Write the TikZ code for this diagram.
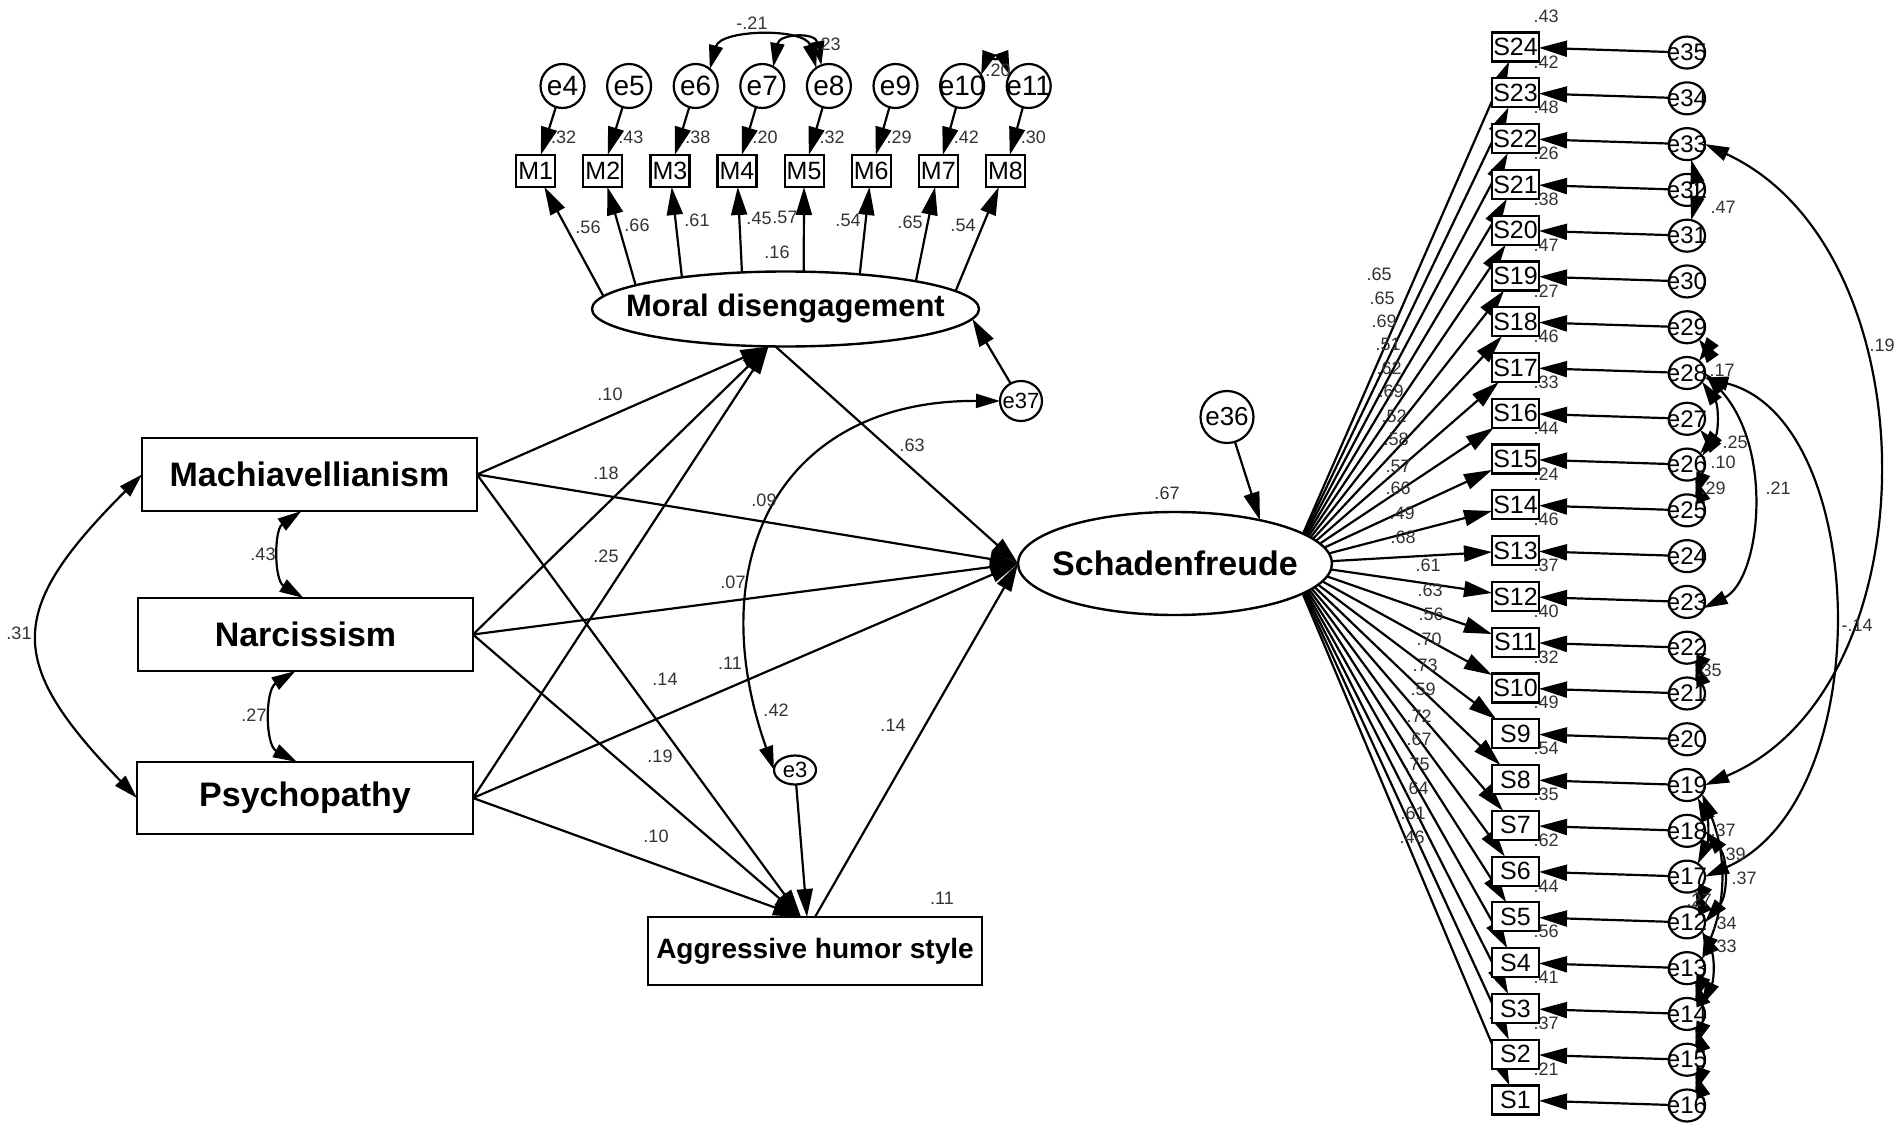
\documentclass[tikz,border=0pt]{standalone}
\usepackage{fontspec}
\setmainfont{Liberation Sans}
\usetikzlibrary{arrows.meta,shapes.geometric,backgrounds}
\begin{document}
\begin{tikzpicture}[x=0.5pt,y=-0.5pt,
  every node/.style={inner sep=0pt,outer sep=0pt},
  lab/.style={font=\fontsize{9}{10}\selectfont,text=black!80},
  bigtxt/.style={font=\fontsize{17}{20}\selectfont\bfseries},
  boxnode/.style={draw,line width=1.2pt,fill=white,rectangle},
  smallbox/.style={draw,line width=1.1pt,fill=white,rectangle,font=\fontsize{12.5}{13}\selectfont},
  latent/.style={draw,line width=1.2pt,fill=white,ellipse},
  errc/.style={draw,line width=1.1pt,fill=white,ellipse},
  arr/.style={line width=1.1pt,-{Triangle[length=14pt,width=8pt]}},
  cov/.style={line width=1.1pt,{Triangle[length=12pt,width=7pt]}-{Triangle[length=12pt,width=7pt]}},
]
\begin{pgfonlayer}{background}
\fill[white] (0,0) rectangle (1902,1129);
\end{pgfonlayer}
\path[use as bounding box] (0,0) rectangle (1902,1129);

% ---------- exogenous boxes ----------
\node[boxnode,bigtxt,minimum width=167.5pt,minimum height=36.5pt] (Mach) at (309.5,474.5) {Machiavellianism};
\node[boxnode,bigtxt,minimum width=167.5pt,minimum height=36.5pt] (Narc) at (305.5,634.5) {Narcissism};
\node[boxnode,bigtxt,minimum width=168pt,minimum height=36pt] (Psy) at (305,798) {Psychopathy};
\node[boxnode,font=\fontsize{14}{16}\selectfont\bfseries,minimum width=167pt,minimum height=34pt] (Agg) at (815,951) {Aggressive humor style};

% ---------- latent variables ----------
\node[latent,minimum width=193.5pt,minimum height=37.5pt,
  label={[font=\fontsize{15.5}{18}\selectfont\bfseries]center:Moral disengagement}] (MD) at (785.5,309) {};
\node[latent,minimum width=157pt,minimum height=51.5pt,
  label={[bigtxt]center:Schadenfreude}] (SF) at (1175,563.5) {};

% ---------- error terms of structural part ----------
\node[errc,minimum width=21pt,minimum height=20pt,label={[font=\fontsize{11}{12}\selectfont]center:e37}] (e37) at (1021,401) {};
\node[errc,minimum width=26.5pt,minimum height=26pt,label={[font=\fontsize{13}{14}\selectfont]center:e36}] (e36) at (1227,417) {};
\node[errc,minimum width=21pt,minimum height=14.5pt,label={[font=\fontsize{11}{12}\selectfont]center:e3}] (e3) at (795,770) {};

% ---------- moral disengagement indicators ----------
\foreach \i [count=\k from 0] in {4,...,11}
  \node[errc,minimum width=22pt,minimum height=22pt,label={[font=\fontsize{14}{15}\selectfont]center:e\i}] (e\i) at ({562.5+66.6*\k},86) {};
\foreach \m [count=\k from 0] in {1,...,8}
  \node[smallbox,minimum width=19.5pt,minimum height=16pt] (M\m) at ({535.7+67.1*\k},171) {M\m};
\foreach \e/\m in {4/1,5/2,6/3,7/4,8/5,9/6,10/7,11/8}
  \draw[arr] (e\e) -- (M\m);
\foreach \m/\a in {1/176,2/171,3/163,4/140,5/64,6/25,7/12,8/6}
  \draw[arr] (MD.\a) -- (M\m);
\foreach \m/\v in {1/.32,2/.43,3/.38,4/.20,5/.32,6/.29,7/.42,8/.30}
  \node[lab] (rm\m) at ({535.7+67.1*(\m-1)+28},137) {\v};
\foreach \n/\v/\x/\y in {1/.56/588/227,2/.66/637/225,3/.61/697/220,4/.45/759/218,5/.57/785/217,6/.54/848/220,7/.65/910/222,8/.54/963/225}
  \node[lab] (lm\n) at (\x,\y) {\v};

\draw[cov] (e6.50) to[out=75,in=105] (e8.125);
\draw[cov] (e7.60) to[out=80,in=100,looseness=1.8] (e8.110);
\draw[cov] (e10.30) to[out=70,in=110,looseness=1.3] (e11.150);
\node[lab] (c1) at (752,23) {-.21};
\node[lab] (c2) at (828,44) {.23};
\node[lab] (c3) at (998,70) {.20};

% ---------- structural paths ----------
\draw[arr] (Mach.east) -- ([xshift=-8.5pt]MD.south);
\draw[arr] (Narc.east) -- ([xshift=-8.5pt]MD.south);
\draw[arr] (Psy.east) -- ([xshift=-8.5pt]MD.south);
\draw[arr] (Mach.east) -- (SF.west);
\draw[arr] (Narc.east) -- (SF.west);
\draw[arr] (Psy.east) -- (SF.west);
\draw[arr] (Mach.east) -- ([xshift=-7pt]Agg.north);
\draw[arr] (Narc.east) -- ([xshift=-7pt]Agg.north);
\draw[arr] (Psy.east) -- ([xshift=-7pt]Agg.north);
\draw[arr] ([xshift=-5pt]MD.south) -- (SF.west);
\draw[arr] (Agg.north) -- (SF.west);
\draw[arr] (e3) -- ([xshift=-4pt]Agg.north);
\draw[arr] (e37) -- (MD.-3);
\draw[arr] (e36) -- (SF.27);
\draw[cov] (e3.west) .. controls (700,560) and (780,400) .. (e37.west);

\draw[cov] (Mach.west) .. controls (5.5,611) and (5.5,662) .. (Psy.west);
\draw[cov] ([xshift=-4pt]Mach.south) .. controls (274,530) and (274,580) .. ([xshift=-1pt]Narc.north);
\draw[cov] ([xshift=-5pt]Narc.south) .. controls (265,690) and (265,745) .. ([xshift=-4pt]Psy.north);

\foreach \n/\v/\x/\y in {1/.10/610/394,2/.18/606/473,3/.25/606/556,4/.09/764/500,5/.07/733/582,6/.11/730/663,
  7/.14/665/679,8/.19/660/756,9/.10/656/836,10/.14/893/725,11/.63/912/445,12/.11/942/898,13/.67/1167/493,
  14/.16/777/252,15/.42/776/710,16/.31/19/633,17/.43/263/554,18/.27/254/715}
  \node[lab] (t\n) at (\x,\y) {\v};

% ---------- Schadenfreude indicators ----------
\foreach \k in {1,...,24}
  \node[smallbox,minimum width=23.5pt,minimum height=14.5pt] (S\k) at (1515.5,{1100-45.78*(\k-1)}) {S\k};
\foreach \k/\e in {1/16,2/15,3/14,4/13,5/12,6/17,7/18,8/19,9/20,10/21,11/22,12/23,13/24,14/25,15/26,16/27,17/28,18/29,19/30,20/31,21/32,22/33,23/34,24/35}
  \node[errc,minimum width=18pt,minimum height=16pt,label={[font=\fontsize{12}{13}\selectfont]center:e\e}] (e\e) at (1687,{1105.5-45.78*(\k-1)}) {};
\foreach \k/\e in {1/16,2/15,3/14,4/13,5/12,6/17,7/18,8/19,9/20,10/21,11/22,12/23,13/24,14/25,15/26,16/27,17/28,18/29,19/30,20/31,21/32,22/33,23/34,24/35}
  \draw[arr] (e\e) -- (S\k);

\coordinate (F) at (1290,563.5);
\begin{pgfonlayer}{background}
\foreach \k in {1,...,24}
  \draw[arr] (F) -- (S\k);
\end{pgfonlayer}

\foreach \k/\v/\x/\y in {24/.65/1379/274,23/.65/1382/298,22/.69/1384/321,21/.51/1388/344,20/.62/1389/368,19/.69/1391/391,
  18/.52/1394/416,17/.58/1396/439,16/.57/1398/466,15/.66/1398/488,14/.49/1402/513,13/.68/1403/537,
  12/.61/1428/565,11/.63/1430/590,10/.56/1431/614,9/.70/1429/639,8/.73/1425/665,7/.59/1423/689,
  6/.72/1419/716,5/.67/1419/739,4/.75/1417/764,3/.64/1416/788,2/.61/1413/813,1/.46/1412/837}
  \node[lab] (f\k) at (\x,\y) {\v};
\foreach \k/\v in {1/.21,2/.37,3/.41,4/.56,5/.44,6/.62,7/.35,8/.54,9/.49,10/.32,11/.40,12/.37,
  13/.46,14/.24,15/.44,16/.33,17/.46,18/.27,19/.47,20/.38,21/.26,22/.48,23/.42,24/.43}
  \node[lab] (q\k) at (1546,{1100-45.78*(\k-1)-31}) {\v};

% ---------- error covariances (right) ----------
\draw[cov] (e33.-75) to[bend left=15] (e31.75);
\draw[cov] (e33.east) .. controls (1934,250) and (1934,689) .. (e19.east);
\draw[cov] (e28.east) .. controls (1775,450) and (1760,580) .. (e23.-20);
\draw[cov] (e28.-15) .. controls (1870,420) and (1880,800) .. (e17.east);
\draw[cov] (e29.-45) to[bend left=35] (e28.45);
\draw[cov] (e28.-30) to[bend left=35] (e26.30);
\draw[cov] (e27.-40) to[bend left=40] (e26.40);
\draw[cov] (e26.-60) to[bend left=20] (e25.60);
\draw[cov] (e22.-60) to[bend left=20] (e21.60);
\draw[cov] (e19.-50) to[bend left=25] (e17.50);
\draw[cov] (e19.-30) to[bend left=22] (e13.30);
\draw[cov] (e18.east) to[bend left=40] (e12.east);
\draw[cov] (e17.-60) to[bend left=25] (e12.60);
\draw[cov] (e12.-30) to[bend left=25] (e14.30);
\draw[cov] (e13.-60) to[bend left=20] (e14.60);
\draw[cov] (e14.-60) to[bend left=20] (e15.60);
\draw[cov] (e15.-60) to[bend left=20] (e16.60);

\foreach \n/\v/\x/\y in {1/.47/1723/207,2/.19/1882/345,3/.21/1778/488,4/-.14/1857/625,5/.17/1722/370,
  6/.25/1735/442,7/.10/1723/462,8/.29/1713/488,9/.35/1709/670,10/.37/1723/830,11/.39/1733/854,
  12/.37/1744/878,13/.27/1699/900,14/.34/1724/923,15/.33/1724/946}
  \node[lab] (k\n) at (\x,\y) {\v};
\end{tikzpicture}
\end{document}
